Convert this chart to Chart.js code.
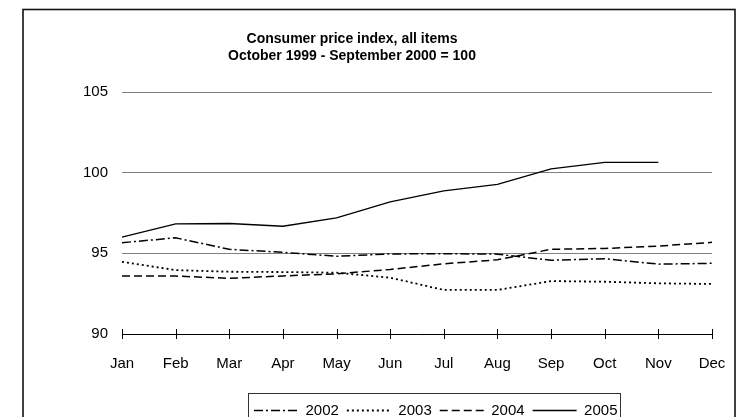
<!DOCTYPE html>
<html>
<head>
<meta charset="utf-8">
<script src="https://cdn.jsdelivr.net/npm/chart.js@4/dist/chart.umd.min.js"></script>
<style>
    body { margin: 0; background: #fff; }
    #wrap { width: 743px; height: 417px; }
</style>
</head>
<body>
<div id="wrap"><canvas id="myChart" width="743" height="417"></canvas></div>
<script>
var months = ["Jan", "Feb", "Mar", "Apr", "May", "Jun", "Jul", "Aug", "Sep", "Oct", "Nov", "Dec"];
var years = ["2002", "2003", "2004", "2005"];

var cpi2002 = [95.66, 95.96, 95.25, 95.06, 94.82, 94.96, 94.98, 94.95, 94.57, 94.67, 94.33, 94.38];
var cpi2003 = [94.47, 93.96, 93.86, 93.84, 93.80, 93.49, 92.73, 92.73, 93.28, 93.24, 93.14, 93.10];
var cpi2004 = [93.59, 93.59, 93.45, 93.60, 93.73, 94.00, 94.35, 94.60, 95.25, 95.30, 95.45, 95.68];
var cpi2005 = [96.00, 96.82, 96.85, 96.68, 97.20, 98.19, 98.87, 99.28, 100.24, 100.64, 100.64, null];

var yTicks = [90, 95, 100, 105];

var font = "'Liberation Sans', Arial, sans-serif";

// frame, cross ticks on the x axis and the box round the legend
var extras = {
    id: 'extras',
    afterLayout: function (chart) {
        var lg = chart.legend;
        var pad = lg.options.labels.padding;
        var startX = (lg.left + pad + lg.right - lg.lineWidths[0]) / 2;
        var dx = 254 - startX;
        lg.left += dx;
        lg.right += dx;
        lg.top += 11;
        lg.bottom += 11;
        chart.titleBlock.left -= 4;
        chart.titleBlock.right -= 4;
        chart.titleBlock.top += 1;
        chart.titleBlock.bottom += 1;
    },
    afterDraw: function (chart) {
        var ctx = chart.ctx;
        var x = chart.scales.x;
        var area = chart.chartArea;
        ctx.save();

        ctx.strokeStyle = "#000";
        ctx.lineWidth = 1;
        for (let i = 0; i < months.length; i++) {
            var px = Math.round(x.getPixelForTick(i)) + 0.5;
            ctx.beginPath();
            ctx.moveTo(px, area.bottom - 5);
            ctx.lineTo(px, area.bottom + 5);
            ctx.stroke();
        }

        var boxes = chart.legend.legendHitBoxes;
        if (boxes.length) {
            var first = boxes[0], last = boxes[boxes.length - 1];
            ctx.strokeStyle = "#333";
            ctx.lineWidth = 1;
            ctx.strokeRect(Math.round(first.left - 6) + 0.5, 393.5,
                Math.round(last.left + last.width - first.left + 9), 40);
        }

        ctx.strokeStyle = "#111";
        ctx.lineWidth = 1.6;
        ctx.strokeRect(23, 9.5, 712, 420);
        ctx.restore();
    }
};

var ctx = document.getElementById('myChart').getContext('2d');

var chart = new Chart(ctx, {
    type: 'line',
    data: {
        labels: months,
        datasets: [{
            label: years[0],
            data: cpi2002,
            borderColor: "#000",
            borderWidth: 1.5,
            borderDash: [9, 3, 2, 3]
        }, {
            label: years[1],
            data: cpi2003,
            borderColor: "#000",
            borderWidth: 1.8,
            borderDash: [2, 3]
        }, {
            label: years[2],
            data: cpi2004,
            borderColor: "#000",
            borderWidth: 1.5,
            borderDash: [8, 4]
        }, {
            label: years[3],
            data: cpi2005,
            borderColor: "#000",
            borderWidth: 1.3,
            borderDash: []
        }]
    },
    options: {
        responsive: false,
        animation: false,
        events: [],
        layout: {padding: {left: 0, right: 31, top: 0, bottom: 0}},
        elements: {
            point: {radius: 0},
            line: {tension: 0, fill: false}
        },
        plugins: {
            title: {
                display: true,
                text: ["Consumer price index, all items", "October 1999 - September 2000 = 100"],
                color: "#000",
                font: {family: font, size: 14, weight: 'bold', lineHeight: '17px'},
                padding: {top: 29.5, bottom: 28.5}
            },
            legend: {
                position: 'bottom',
                labels: {
                    color: "#000",
                    font: {family: font, size: 15},
                    usePointStyle: true,
                    pointStyle: 'line',
                    pointStyleWidth: 44,
                    padding: 8,
                    generateLabels: function (chart) {
                        var items = Chart.defaults.plugins.legend.labels.generateLabels(chart);
                        items.forEach(function (it) {
                            var ds = chart.data.datasets[it.datasetIndex];
                            it.lineDash = ds.borderDash;
                            it.lineWidth = ds.borderWidth;
                            it.strokeStyle = ds.borderColor;
                        });
                        return items;
                    }
                }
            },
            tooltip: {enabled: false}
        },
        scales: {
            x: {
                offset: false,
                grid: {display: false},
                border: {display: true, color: "#000", width: 1},
                ticks: {color: "#000", font: {family: font, size: 15}, padding: 13, maxRotation: 0, autoSkip: false},
                afterFit: function (s) { s.height = 50; }
            },
            y: {
                min: yTicks[0],
                max: yTicks[yTicks.length - 1],
                afterBuildTicks: function (s) {
                    s.ticks = yTicks.map(function (v) { return {value: v}; });
                },
                grid: {color: "#808080", lineWidth: 1, drawTicks: false},
                border: {display: false},
                ticks: {color: "#000", font: {family: font, size: 15}, padding: 14},
                afterFit: function (s) { s.width = 122; }
            }
        }
    },
    plugins: [extras]
});
</script>
</body>
</html>
